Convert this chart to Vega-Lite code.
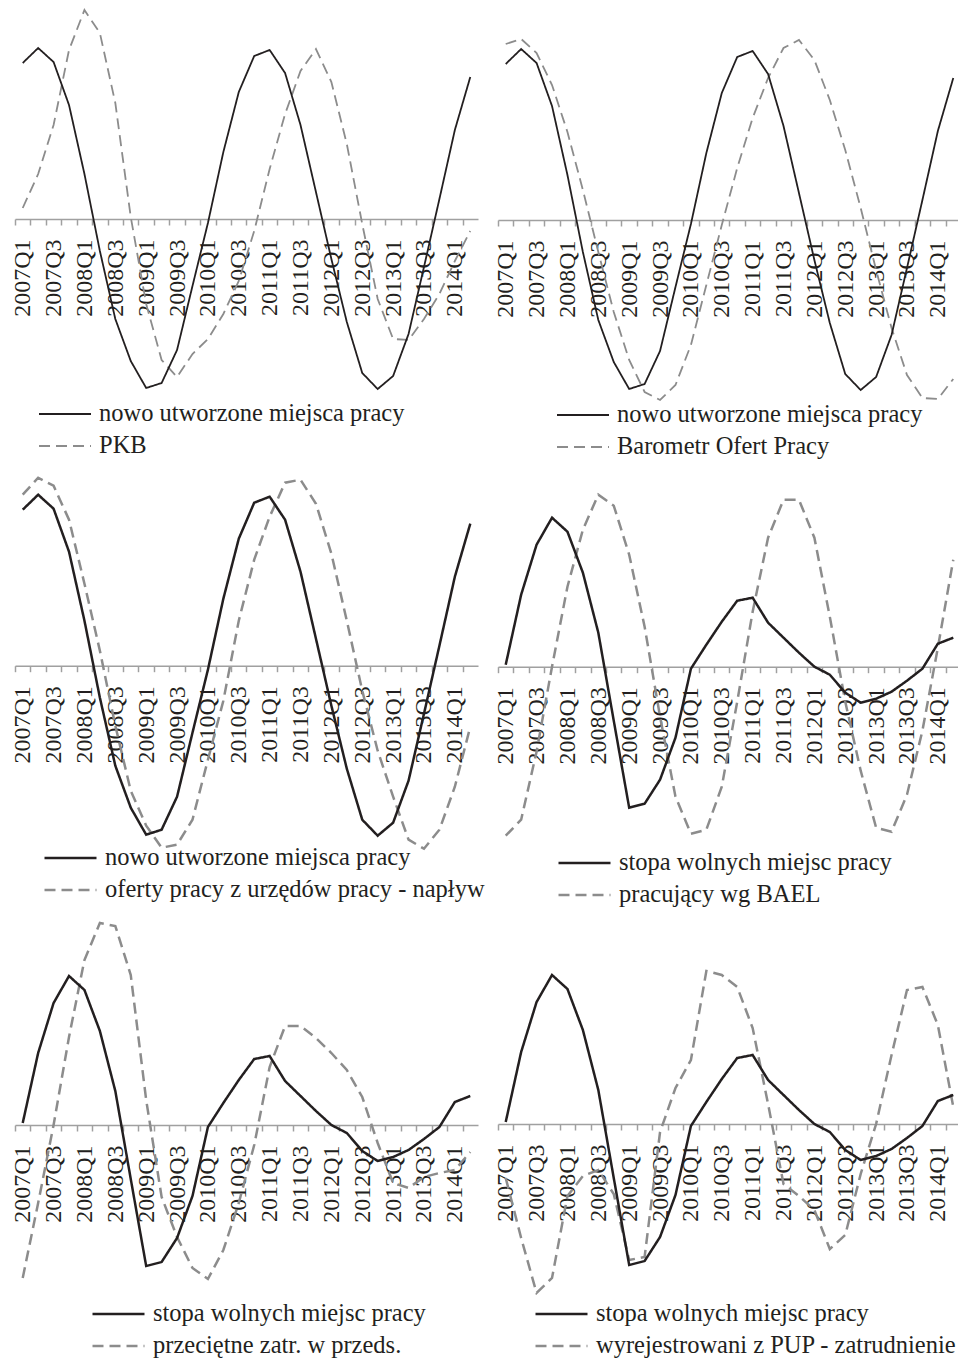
{
  "$schema": "https://vega.github.io/schema/vega-lite/v6.json",
  "padding": {"left": 10, "top": 0, "right": 0, "bottom": 0},
  "background": "white",
  "columns": 2,
  "spacing": {"row": 50, "column": 20},
  "bounds": "flush",
  "resolve": {
    "scale": {"color": "independent", "strokeDash": "independent"},
    "legend": {"color": "independent", "strokeDash": "independent"}
  },
  "concat": [
    {
      "width": 463, "height": 400,
      "data": {"values": [
        {"q":"2007Q1","s":"PKB","v":0.11},{"q":"2007Q2","s":"PKB","v":0.45},{"q":"2007Q3","s":"PKB","v":0.94},{"q":"2007Q4","s":"PKB","v":1.69},
        {"q":"2008Q1","s":"PKB","v":2.09},{"q":"2008Q2","s":"PKB","v":1.86},{"q":"2008Q3","s":"PKB","v":1.16},{"q":"2008Q4","s":"PKB","v":0.02},
        {"q":"2009Q1","s":"PKB","v":-0.85},{"q":"2009Q2","s":"PKB","v":-1.41},{"q":"2009Q3","s":"PKB","v":-1.58},{"q":"2009Q4","s":"PKB","v":-1.35},
        {"q":"2010Q1","s":"PKB","v":-1.2},{"q":"2010Q2","s":"PKB","v":-0.95},{"q":"2010Q3","s":"PKB","v":-0.62},{"q":"2010Q4","s":"PKB","v":-0.12},
        {"q":"2011Q1","s":"PKB","v":0.5},{"q":"2011Q2","s":"PKB","v":1.05},{"q":"2011Q3","s":"PKB","v":1.48},{"q":"2011Q4","s":"PKB","v":1.7},
        {"q":"2012Q1","s":"PKB","v":1.37},{"q":"2012Q2","s":"PKB","v":0.75},{"q":"2012Q3","s":"PKB","v":-0.05},{"q":"2012Q4","s":"PKB","v":-0.8},
        {"q":"2013Q1","s":"PKB","v":-1.2},{"q":"2013Q2","s":"PKB","v":-1.21},{"q":"2013Q3","s":"PKB","v":-1.0},{"q":"2013Q4","s":"PKB","v":-0.75},
        {"q":"2014Q1","s":"PKB","v":-0.42},{"q":"2014Q2","s":"PKB","v":-0.12},
        {"q":"2007Q1","s":"nowo utworzone miejsca pracy","v":1.56},{"q":"2007Q2","s":"nowo utworzone miejsca pracy","v":1.71},{"q":"2007Q3","s":"nowo utworzone miejsca pracy","v":1.57},{"q":"2007Q4","s":"nowo utworzone miejsca pracy","v":1.14},
        {"q":"2008Q1","s":"nowo utworzone miejsca pracy","v":0.45},{"q":"2008Q2","s":"nowo utworzone miejsca pracy","v":-0.32},{"q":"2008Q3","s":"nowo utworzone miejsca pracy","v":-1.0},{"q":"2008Q4","s":"nowo utworzone miejsca pracy","v":-1.42},
        {"q":"2009Q1","s":"nowo utworzone miejsca pracy","v":-1.69},{"q":"2009Q2","s":"nowo utworzone miejsca pracy","v":-1.64},{"q":"2009Q3","s":"nowo utworzone miejsca pracy","v":-1.31},{"q":"2009Q4","s":"nowo utworzone miejsca pracy","v":-0.67},
        {"q":"2010Q1","s":"nowo utworzone miejsca pracy","v":-0.04},{"q":"2010Q2","s":"nowo utworzone miejsca pracy","v":0.67},{"q":"2010Q3","s":"nowo utworzone miejsca pracy","v":1.27},{"q":"2010Q4","s":"nowo utworzone miejsca pracy","v":1.63},
        {"q":"2011Q1","s":"nowo utworzone miejsca pracy","v":1.69},{"q":"2011Q2","s":"nowo utworzone miejsca pracy","v":1.46},{"q":"2011Q3","s":"nowo utworzone miejsca pracy","v":0.94},{"q":"2011Q4","s":"nowo utworzone miejsca pracy","v":0.27},
        {"q":"2012Q1","s":"nowo utworzone miejsca pracy","v":-0.4},{"q":"2012Q2","s":"nowo utworzone miejsca pracy","v":-1.03},{"q":"2012Q3","s":"nowo utworzone miejsca pracy","v":-1.54},{"q":"2012Q4","s":"nowo utworzone miejsca pracy","v":-1.7},
        {"q":"2013Q1","s":"nowo utworzone miejsca pracy","v":-1.57},{"q":"2013Q2","s":"nowo utworzone miejsca pracy","v":-1.15},{"q":"2013Q3","s":"nowo utworzone miejsca pracy","v":-0.48},{"q":"2013Q4","s":"nowo utworzone miejsca pracy","v":0.2},
        {"q":"2014Q1","s":"nowo utworzone miejsca pracy","v":0.89},{"q":"2014Q2","s":"nowo utworzone miejsca pracy","v":1.42}
      ]},
      "mark": {"type": "line", "strokeWidth": 1.8},
      "encoding": {
        "x": {"field": "q", "type": "ordinal",
          "scale": {"type": "point", "padding": 0.5, "domain": ["2007Q1","2007Q2","2007Q3","2007Q4","2008Q1","2008Q2","2008Q3","2008Q4","2009Q1","2009Q2","2009Q3","2009Q4","2010Q1","2010Q2","2010Q3","2010Q4","2011Q1","2011Q2","2011Q3","2011Q4","2012Q1","2012Q2","2012Q3","2012Q4","2013Q1","2013Q2","2013Q3","2013Q4","2014Q1","2014Q2"]},
          "axis": {"offset": -181, "labelExpr": "indexof(datum.value, 'Q1') > 0 || indexof(datum.value, 'Q3') > 0 ? datum.value : ''"}},
        "y": {"field": "v", "type": "quantitative", "scale": {"domain": [-1.81, 2.19], "nice": false, "zero": false}, "axis": null},
        "color": {"field": "s", "type": "nominal", "scale": {"domain": ["nowo utworzone miejsca pracy", "PKB"], "range": ["#231f20", "#8c8c8c"]},
          "legend": {"title": null, "orient": "none", "legendX": 23, "legendY": 399, "symbolStrokeWidth": 1.8}},
        "strokeDash": {"field": "s", "type": "nominal", "scale": {"domain": ["nowo utworzone miejsca pracy", "PKB"], "range": [[1, 0], [11, 6]]},
          "legend": {"title": null, "orient": "none", "legendX": 23, "legendY": 399, "symbolStrokeWidth": 1.8}}
      }
    },
    {
      "width": 463, "height": 400,
      "data": {"values": [
        {"q":"2007Q1","s":"Barometr Ofert Pracy","v":1.76},{"q":"2007Q2","s":"Barometr Ofert Pracy","v":1.81},{"q":"2007Q3","s":"Barometr Ofert Pracy","v":1.67},{"q":"2007Q4","s":"Barometr Ofert Pracy","v":1.35},
        {"q":"2008Q1","s":"Barometr Ofert Pracy","v":0.88},{"q":"2008Q2","s":"Barometr Ofert Pracy","v":0.3},{"q":"2008Q3","s":"Barometr Ofert Pracy","v":-0.32},{"q":"2008Q4","s":"Barometr Ofert Pracy","v":-0.92},
        {"q":"2009Q1","s":"Barometr Ofert Pracy","v":-1.4},{"q":"2009Q2","s":"Barometr Ofert Pracy","v":-1.72},{"q":"2009Q3","s":"Barometr Ofert Pracy","v":-1.8},{"q":"2009Q4","s":"Barometr Ofert Pracy","v":-1.65},
        {"q":"2010Q1","s":"Barometr Ofert Pracy","v":-1.25},{"q":"2010Q2","s":"Barometr Ofert Pracy","v":-0.65},{"q":"2010Q3","s":"Barometr Ofert Pracy","v":-0.05},{"q":"2010Q4","s":"Barometr Ofert Pracy","v":0.52},
        {"q":"2011Q1","s":"Barometr Ofert Pracy","v":1.02},{"q":"2011Q2","s":"Barometr Ofert Pracy","v":1.42},{"q":"2011Q3","s":"Barometr Ofert Pracy","v":1.72},{"q":"2011Q4","s":"Barometr Ofert Pracy","v":1.8},
        {"q":"2012Q1","s":"Barometr Ofert Pracy","v":1.6},{"q":"2012Q2","s":"Barometr Ofert Pracy","v":1.2},{"q":"2012Q3","s":"Barometr Ofert Pracy","v":0.7},{"q":"2012Q4","s":"Barometr Ofert Pracy","v":0.12},
        {"q":"2013Q1","s":"Barometr Ofert Pracy","v":-0.5},{"q":"2013Q2","s":"Barometr Ofert Pracy","v":-1.08},{"q":"2013Q3","s":"Barometr Ofert Pracy","v":-1.55},{"q":"2013Q4","s":"Barometr Ofert Pracy","v":-1.78},
        {"q":"2014Q1","s":"Barometr Ofert Pracy","v":-1.79},{"q":"2014Q2","s":"Barometr Ofert Pracy","v":-1.59},
        {"q":"2007Q1","s":"nowo utworzone miejsca pracy","v":1.56},{"q":"2007Q2","s":"nowo utworzone miejsca pracy","v":1.71},{"q":"2007Q3","s":"nowo utworzone miejsca pracy","v":1.57},{"q":"2007Q4","s":"nowo utworzone miejsca pracy","v":1.14},
        {"q":"2008Q1","s":"nowo utworzone miejsca pracy","v":0.45},{"q":"2008Q2","s":"nowo utworzone miejsca pracy","v":-0.32},{"q":"2008Q3","s":"nowo utworzone miejsca pracy","v":-1.0},{"q":"2008Q4","s":"nowo utworzone miejsca pracy","v":-1.42},
        {"q":"2009Q1","s":"nowo utworzone miejsca pracy","v":-1.69},{"q":"2009Q2","s":"nowo utworzone miejsca pracy","v":-1.64},{"q":"2009Q3","s":"nowo utworzone miejsca pracy","v":-1.31},{"q":"2009Q4","s":"nowo utworzone miejsca pracy","v":-0.67},
        {"q":"2010Q1","s":"nowo utworzone miejsca pracy","v":-0.04},{"q":"2010Q2","s":"nowo utworzone miejsca pracy","v":0.67},{"q":"2010Q3","s":"nowo utworzone miejsca pracy","v":1.27},{"q":"2010Q4","s":"nowo utworzone miejsca pracy","v":1.63},
        {"q":"2011Q1","s":"nowo utworzone miejsca pracy","v":1.69},{"q":"2011Q2","s":"nowo utworzone miejsca pracy","v":1.46},{"q":"2011Q3","s":"nowo utworzone miejsca pracy","v":0.94},{"q":"2011Q4","s":"nowo utworzone miejsca pracy","v":0.27},
        {"q":"2012Q1","s":"nowo utworzone miejsca pracy","v":-0.4},{"q":"2012Q2","s":"nowo utworzone miejsca pracy","v":-1.03},{"q":"2012Q3","s":"nowo utworzone miejsca pracy","v":-1.54},{"q":"2012Q4","s":"nowo utworzone miejsca pracy","v":-1.7},
        {"q":"2013Q1","s":"nowo utworzone miejsca pracy","v":-1.57},{"q":"2013Q2","s":"nowo utworzone miejsca pracy","v":-1.15},{"q":"2013Q3","s":"nowo utworzone miejsca pracy","v":-0.48},{"q":"2013Q4","s":"nowo utworzone miejsca pracy","v":0.2},
        {"q":"2014Q1","s":"nowo utworzone miejsca pracy","v":0.89},{"q":"2014Q2","s":"nowo utworzone miejsca pracy","v":1.42}
      ]},
      "mark": {"type": "line", "strokeWidth": 1.8},
      "encoding": {
        "x": {"field": "q", "type": "ordinal",
          "scale": {"type": "point", "padding": 0.5, "domain": ["2007Q1","2007Q2","2007Q3","2007Q4","2008Q1","2008Q2","2008Q3","2008Q4","2009Q1","2009Q2","2009Q3","2009Q4","2010Q1","2010Q2","2010Q3","2010Q4","2011Q1","2011Q2","2011Q3","2011Q4","2012Q1","2012Q2","2012Q3","2012Q4","2013Q1","2013Q2","2013Q3","2013Q4","2014Q1","2014Q2"]},
          "axis": {"offset": -180, "labelExpr": "indexof(datum.value, 'Q1') > 0 || indexof(datum.value, 'Q3') > 0 ? datum.value : ''"}},
        "y": {"field": "v", "type": "quantitative", "scale": {"domain": [-1.8, 2.2], "nice": false, "zero": false}, "axis": null},
        "color": {"field": "s", "type": "nominal", "scale": {"domain": ["nowo utworzone miejsca pracy", "Barometr Ofert Pracy"], "range": ["#231f20", "#8c8c8c"]},
          "legend": {"title": null, "orient": "none", "legendX": 58, "legendY": 400, "symbolStrokeWidth": 1.8}},
        "strokeDash": {"field": "s", "type": "nominal", "scale": {"domain": ["nowo utworzone miejsca pracy", "Barometr Ofert Pracy"], "range": [[1, 0], [11, 6]]},
          "legend": {"title": null, "orient": "none", "legendX": 58, "legendY": 400, "symbolStrokeWidth": 1.8}}
      }
    },
    {
      "width": 463, "height": 400,
      "data": {"values": [
        {"q":"2007Q1","s":"oferty pracy z urzędów pracy - napływ","v":1.71},{"q":"2007Q2","s":"oferty pracy z urzędów pracy - napływ","v":1.88},{"q":"2007Q3","s":"oferty pracy z urzędów pracy - napływ","v":1.8},{"q":"2007Q4","s":"oferty pracy z urzędów pracy - napływ","v":1.46},
        {"q":"2008Q1","s":"oferty pracy z urzędów pracy - napływ","v":0.82},{"q":"2008Q2","s":"oferty pracy z urzędów pracy - napływ","v":0.15},{"q":"2008Q3","s":"oferty pracy z urzędów pracy - napływ","v":-0.6},{"q":"2008Q4","s":"oferty pracy z urzędów pracy - napływ","v":-1.25},
        {"q":"2009Q1","s":"oferty pracy z urzędów pracy - napływ","v":-1.6},{"q":"2009Q2","s":"oferty pracy z urzędów pracy - napływ","v":-1.82},{"q":"2009Q3","s":"oferty pracy z urzędów pracy - napływ","v":-1.79},{"q":"2009Q4","s":"oferty pracy z urzędów pracy - napływ","v":-1.54},
        {"q":"2010Q1","s":"oferty pracy z urzędów pracy - napływ","v":-0.94},{"q":"2010Q2","s":"oferty pracy z urzędów pracy - napływ","v":-0.35},{"q":"2010Q3","s":"oferty pracy z urzędów pracy - napływ","v":0.45},{"q":"2010Q4","s":"oferty pracy z urzędów pracy - napływ","v":1.06},
        {"q":"2011Q1","s":"oferty pracy z urzędów pracy - napływ","v":1.49},{"q":"2011Q2","s":"oferty pracy z urzędów pracy - napływ","v":1.83},{"q":"2011Q3","s":"oferty pracy z urzędów pracy - napływ","v":1.86},{"q":"2011Q4","s":"oferty pracy z urzędów pracy - napływ","v":1.62},
        {"q":"2012Q1","s":"oferty pracy z urzędów pracy - napływ","v":1.12},{"q":"2012Q2","s":"oferty pracy z urzędów pracy - napływ","v":0.45},{"q":"2012Q3","s":"oferty pracy z urzędów pracy - napływ","v":-0.25},{"q":"2012Q4","s":"oferty pracy z urzędów pracy - napływ","v":-0.85},
        {"q":"2013Q1","s":"oferty pracy z urzędów pracy - napływ","v":-1.31},{"q":"2013Q2","s":"oferty pracy z urzędów pracy - napływ","v":-1.74},{"q":"2013Q3","s":"oferty pracy z urzędów pracy - napływ","v":-1.83},{"q":"2013Q4","s":"oferty pracy z urzędów pracy - napływ","v":-1.64},
        {"q":"2014Q1","s":"oferty pracy z urzędów pracy - napływ","v":-1.21},{"q":"2014Q2","s":"oferty pracy z urzędów pracy - napływ","v":-0.61},
        {"q":"2007Q1","s":"nowo utworzone miejsca pracy","v":1.56},{"q":"2007Q2","s":"nowo utworzone miejsca pracy","v":1.71},{"q":"2007Q3","s":"nowo utworzone miejsca pracy","v":1.57},{"q":"2007Q4","s":"nowo utworzone miejsca pracy","v":1.14},
        {"q":"2008Q1","s":"nowo utworzone miejsca pracy","v":0.45},{"q":"2008Q2","s":"nowo utworzone miejsca pracy","v":-0.32},{"q":"2008Q3","s":"nowo utworzone miejsca pracy","v":-1.0},{"q":"2008Q4","s":"nowo utworzone miejsca pracy","v":-1.42},
        {"q":"2009Q1","s":"nowo utworzone miejsca pracy","v":-1.69},{"q":"2009Q2","s":"nowo utworzone miejsca pracy","v":-1.64},{"q":"2009Q3","s":"nowo utworzone miejsca pracy","v":-1.31},{"q":"2009Q4","s":"nowo utworzone miejsca pracy","v":-0.67},
        {"q":"2010Q1","s":"nowo utworzone miejsca pracy","v":-0.04},{"q":"2010Q2","s":"nowo utworzone miejsca pracy","v":0.67},{"q":"2010Q3","s":"nowo utworzone miejsca pracy","v":1.27},{"q":"2010Q4","s":"nowo utworzone miejsca pracy","v":1.63},
        {"q":"2011Q1","s":"nowo utworzone miejsca pracy","v":1.69},{"q":"2011Q2","s":"nowo utworzone miejsca pracy","v":1.46},{"q":"2011Q3","s":"nowo utworzone miejsca pracy","v":0.94},{"q":"2011Q4","s":"nowo utworzone miejsca pracy","v":0.27},
        {"q":"2012Q1","s":"nowo utworzone miejsca pracy","v":-0.4},{"q":"2012Q2","s":"nowo utworzone miejsca pracy","v":-1.03},{"q":"2012Q3","s":"nowo utworzone miejsca pracy","v":-1.54},{"q":"2012Q4","s":"nowo utworzone miejsca pracy","v":-1.7},
        {"q":"2013Q1","s":"nowo utworzone miejsca pracy","v":-1.57},{"q":"2013Q2","s":"nowo utworzone miejsca pracy","v":-1.15},{"q":"2013Q3","s":"nowo utworzone miejsca pracy","v":-0.48},{"q":"2013Q4","s":"nowo utworzone miejsca pracy","v":0.2},
        {"q":"2014Q1","s":"nowo utworzone miejsca pracy","v":0.89},{"q":"2014Q2","s":"nowo utworzone miejsca pracy","v":1.42}
      ]},
      "mark": {"type": "line", "strokeWidth": 2.5},
      "encoding": {
        "x": {"field": "q", "type": "ordinal",
          "scale": {"type": "point", "padding": 0.5, "domain": ["2007Q1","2007Q2","2007Q3","2007Q4","2008Q1","2008Q2","2008Q3","2008Q4","2009Q1","2009Q2","2009Q3","2009Q4","2010Q1","2010Q2","2010Q3","2010Q4","2011Q1","2011Q2","2011Q3","2011Q4","2012Q1","2012Q2","2012Q3","2012Q4","2013Q1","2013Q2","2013Q3","2013Q4","2014Q1","2014Q2"]},
          "axis": {"offset": -184.3, "labelExpr": "indexof(datum.value, 'Q1') > 0 || indexof(datum.value, 'Q3') > 0 ? datum.value : ''"}},
        "y": {"field": "v", "type": "quantitative", "scale": {"domain": [-1.843, 2.157], "nice": false, "zero": false}, "axis": null},
        "color": {"field": "s", "type": "nominal", "scale": {"domain": ["nowo utworzone miejsca pracy", "oferty pracy z urzędów pracy - napływ"], "range": ["#231f20", "#8c8c8c"]},
          "legend": {"title": null, "orient": "none", "legendX": 28, "legendY": 393}},
        "strokeDash": {"field": "s", "type": "nominal", "scale": {"domain": ["nowo utworzone miejsca pracy", "oferty pracy z urzędów pracy - napływ"], "range": [[1, 0], [11, 6]]},
          "legend": {"title": null, "orient": "none", "legendX": 28, "legendY": 393}}
      }
    },
    {
      "width": 463, "height": 400,
      "data": {"values": [
        {"q":"2007Q1","s":"pracujący wg BAEL","v":-1.69},{"q":"2007Q2","s":"pracujący wg BAEL","v":-1.53},{"q":"2007Q3","s":"pracujący wg BAEL","v":-0.85},{"q":"2007Q4","s":"pracujący wg BAEL","v":0.0},
        {"q":"2008Q1","s":"pracujący wg BAEL","v":0.8},{"q":"2008Q2","s":"pracujący wg BAEL","v":1.37},{"q":"2008Q3","s":"pracujący wg BAEL","v":1.72},{"q":"2008Q4","s":"pracujący wg BAEL","v":1.61},
        {"q":"2009Q1","s":"pracujący wg BAEL","v":1.12},{"q":"2009Q2","s":"pracujący wg BAEL","v":0.4},{"q":"2009Q3","s":"pracujący wg BAEL","v":-0.5},{"q":"2009Q4","s":"pracujący wg BAEL","v":-1.3},
        {"q":"2010Q1","s":"pracujący wg BAEL","v":-1.67},{"q":"2010Q2","s":"pracujący wg BAEL","v":-1.63},{"q":"2010Q3","s":"pracujący wg BAEL","v":-1.2},{"q":"2010Q4","s":"pracujący wg BAEL","v":-0.35},
        {"q":"2011Q1","s":"pracujący wg BAEL","v":0.55},{"q":"2011Q2","s":"pracujący wg BAEL","v":1.29},{"q":"2011Q3","s":"pracujący wg BAEL","v":1.67},{"q":"2011Q4","s":"pracujący wg BAEL","v":1.67},
        {"q":"2012Q1","s":"pracujący wg BAEL","v":1.29},{"q":"2012Q2","s":"pracujący wg BAEL","v":0.5},{"q":"2012Q3","s":"pracujący wg BAEL","v":-0.35},{"q":"2012Q4","s":"pracujący wg BAEL","v":-1.04},
        {"q":"2013Q1","s":"pracujący wg BAEL","v":-1.61},{"q":"2013Q2","s":"pracujący wg BAEL","v":-1.65},{"q":"2013Q3","s":"pracujący wg BAEL","v":-1.28},{"q":"2013Q4","s":"pracujący wg BAEL","v":-0.64},
        {"q":"2014Q1","s":"pracujący wg BAEL","v":0.19},{"q":"2014Q2","s":"pracujący wg BAEL","v":1.07},
        {"q":"2007Q1","s":"stopa wolnych miejsc pracy","v":0.02},{"q":"2007Q2","s":"stopa wolnych miejsc pracy","v":0.72},{"q":"2007Q3","s":"stopa wolnych miejsc pracy","v":1.22},{"q":"2007Q4","s":"stopa wolnych miejsc pracy","v":1.49},
        {"q":"2008Q1","s":"stopa wolnych miejsc pracy","v":1.35},{"q":"2008Q2","s":"stopa wolnych miejsc pracy","v":0.94},{"q":"2008Q3","s":"stopa wolnych miejsc pracy","v":0.34},{"q":"2008Q4","s":"stopa wolnych miejsc pracy","v":-0.54},
        {"q":"2009Q1","s":"stopa wolnych miejsc pracy","v":-1.41},{"q":"2009Q2","s":"stopa wolnych miejsc pracy","v":-1.37},{"q":"2009Q3","s":"stopa wolnych miejsc pracy","v":-1.13},{"q":"2009Q4","s":"stopa wolnych miejsc pracy","v":-0.71},
        {"q":"2010Q1","s":"stopa wolnych miejsc pracy","v":-0.02},{"q":"2010Q2","s":"stopa wolnych miejsc pracy","v":0.22},{"q":"2010Q3","s":"stopa wolnych miejsc pracy","v":0.45},{"q":"2010Q4","s":"stopa wolnych miejsc pracy","v":0.66},
        {"q":"2011Q1","s":"stopa wolnych miejsc pracy","v":0.69},{"q":"2011Q2","s":"stopa wolnych miejsc pracy","v":0.44},{"q":"2011Q3","s":"stopa wolnych miejsc pracy","v":0.29},{"q":"2011Q4","s":"stopa wolnych miejsc pracy","v":0.14},
        {"q":"2012Q1","s":"stopa wolnych miejsc pracy","v":0.0},{"q":"2012Q2","s":"stopa wolnych miejsc pracy","v":-0.08},{"q":"2012Q3","s":"stopa wolnych miejsc pracy","v":-0.26},{"q":"2012Q4","s":"stopa wolnych miejsc pracy","v":-0.36},
        {"q":"2013Q1","s":"stopa wolnych miejsc pracy","v":-0.32},{"q":"2013Q2","s":"stopa wolnych miejsc pracy","v":-0.25},{"q":"2013Q3","s":"stopa wolnych miejsc pracy","v":-0.14},{"q":"2013Q4","s":"stopa wolnych miejsc pracy","v":-0.02},
        {"q":"2014Q1","s":"stopa wolnych miejsc pracy","v":0.23},{"q":"2014Q2","s":"stopa wolnych miejsc pracy","v":0.29}
      ]},
      "mark": {"type": "line", "strokeWidth": 2.5},
      "encoding": {
        "x": {"field": "q", "type": "ordinal",
          "scale": {"type": "point", "padding": 0.5, "domain": ["2007Q1","2007Q2","2007Q3","2007Q4","2008Q1","2008Q2","2008Q3","2008Q4","2009Q1","2009Q2","2009Q3","2009Q4","2010Q1","2010Q2","2010Q3","2010Q4","2011Q1","2011Q2","2011Q3","2011Q4","2012Q1","2012Q2","2012Q3","2012Q4","2013Q1","2013Q2","2013Q3","2013Q4","2014Q1","2014Q2"]},
          "axis": {"offset": -183.3, "labelExpr": "indexof(datum.value, 'Q1') > 0 || indexof(datum.value, 'Q3') > 0 ? datum.value : ''"}},
        "y": {"field": "v", "type": "quantitative", "scale": {"domain": [-1.833, 2.167], "nice": false, "zero": false}, "axis": null},
        "color": {"field": "s", "type": "nominal", "scale": {"domain": ["stopa wolnych miejsc pracy", "pracujący wg BAEL"], "range": ["#231f20", "#8c8c8c"]},
          "legend": {"title": null, "orient": "none", "legendX": 59, "legendY": 398}},
        "strokeDash": {"field": "s", "type": "nominal", "scale": {"domain": ["stopa wolnych miejsc pracy", "pracujący wg BAEL"], "range": [[1, 0], [11, 6]]},
          "legend": {"title": null, "orient": "none", "legendX": 59, "legendY": 398}}
      }
    },
    {
      "width": 463, "height": 400,
      "data": {"values": [
        {"q":"2007Q1","s":"przeciętne zatr. w przeds.","v":-1.53},{"q":"2007Q2","s":"przeciętne zatr. w przeds.","v":-0.78},{"q":"2007Q3","s":"przeciętne zatr. w przeds.","v":0.0},{"q":"2007Q4","s":"przeciętne zatr. w przeds.","v":0.88},
        {"q":"2008Q1","s":"przeciętne zatr. w przeds.","v":1.65},{"q":"2008Q2","s":"przeciętne zatr. w przeds.","v":2.02},{"q":"2008Q3","s":"przeciętne zatr. w przeds.","v":1.99},{"q":"2008Q4","s":"przeciętne zatr. w przeds.","v":1.5},
        {"q":"2009Q1","s":"przeciętne zatr. w przeds.","v":0.25},{"q":"2009Q2","s":"przeciętne zatr. w przeds.","v":-0.72},{"q":"2009Q3","s":"przeciętne zatr. w przeds.","v":-1.12},{"q":"2009Q4","s":"przeciętne zatr. w przeds.","v":-1.43},
        {"q":"2010Q1","s":"przeciętne zatr. w przeds.","v":-1.54},{"q":"2010Q2","s":"przeciętne zatr. w przeds.","v":-1.25},{"q":"2010Q3","s":"przeciętne zatr. w przeds.","v":-0.78},{"q":"2010Q4","s":"przeciętne zatr. w przeds.","v":-0.2},
        {"q":"2011Q1","s":"przeciętne zatr. w przeds.","v":0.58},{"q":"2011Q2","s":"przeciętne zatr. w przeds.","v":0.99},{"q":"2011Q3","s":"przeciętne zatr. w przeds.","v":0.99},{"q":"2011Q4","s":"przeciętne zatr. w przeds.","v":0.87},
        {"q":"2012Q1","s":"przeciętne zatr. w przeds.","v":0.72},{"q":"2012Q2","s":"przeciętne zatr. w przeds.","v":0.55},{"q":"2012Q3","s":"przeciętne zatr. w przeds.","v":0.28},{"q":"2012Q4","s":"przeciętne zatr. w przeds.","v":-0.18},
        {"q":"2013Q1","s":"przeciętne zatr. w przeds.","v":-0.58},{"q":"2013Q2","s":"przeciętne zatr. w przeds.","v":-0.63},{"q":"2013Q3","s":"przeciętne zatr. w przeds.","v":-0.52},{"q":"2013Q4","s":"przeciętne zatr. w przeds.","v":-0.48},
        {"q":"2014Q1","s":"przeciętne zatr. w przeds.","v":-0.45},{"q":"2014Q2","s":"przeciętne zatr. w przeds.","v":-0.27},
        {"q":"2007Q1","s":"stopa wolnych miejsc pracy","v":0.02},{"q":"2007Q2","s":"stopa wolnych miejsc pracy","v":0.72},{"q":"2007Q3","s":"stopa wolnych miejsc pracy","v":1.22},{"q":"2007Q4","s":"stopa wolnych miejsc pracy","v":1.49},
        {"q":"2008Q1","s":"stopa wolnych miejsc pracy","v":1.35},{"q":"2008Q2","s":"stopa wolnych miejsc pracy","v":0.94},{"q":"2008Q3","s":"stopa wolnych miejsc pracy","v":0.34},{"q":"2008Q4","s":"stopa wolnych miejsc pracy","v":-0.54},
        {"q":"2009Q1","s":"stopa wolnych miejsc pracy","v":-1.41},{"q":"2009Q2","s":"stopa wolnych miejsc pracy","v":-1.37},{"q":"2009Q3","s":"stopa wolnych miejsc pracy","v":-1.13},{"q":"2009Q4","s":"stopa wolnych miejsc pracy","v":-0.71},
        {"q":"2010Q1","s":"stopa wolnych miejsc pracy","v":-0.02},{"q":"2010Q2","s":"stopa wolnych miejsc pracy","v":0.22},{"q":"2010Q3","s":"stopa wolnych miejsc pracy","v":0.45},{"q":"2010Q4","s":"stopa wolnych miejsc pracy","v":0.66},
        {"q":"2011Q1","s":"stopa wolnych miejsc pracy","v":0.69},{"q":"2011Q2","s":"stopa wolnych miejsc pracy","v":0.44},{"q":"2011Q3","s":"stopa wolnych miejsc pracy","v":0.29},{"q":"2011Q4","s":"stopa wolnych miejsc pracy","v":0.14},
        {"q":"2012Q1","s":"stopa wolnych miejsc pracy","v":0.0},{"q":"2012Q2","s":"stopa wolnych miejsc pracy","v":-0.08},{"q":"2012Q3","s":"stopa wolnych miejsc pracy","v":-0.26},{"q":"2012Q4","s":"stopa wolnych miejsc pracy","v":-0.36},
        {"q":"2013Q1","s":"stopa wolnych miejsc pracy","v":-0.32},{"q":"2013Q2","s":"stopa wolnych miejsc pracy","v":-0.25},{"q":"2013Q3","s":"stopa wolnych miejsc pracy","v":-0.14},{"q":"2013Q4","s":"stopa wolnych miejsc pracy","v":-0.02},
        {"q":"2014Q1","s":"stopa wolnych miejsc pracy","v":0.23},{"q":"2014Q2","s":"stopa wolnych miejsc pracy","v":0.29}
      ]},
      "mark": {"type": "line", "strokeWidth": 2.5},
      "encoding": {
        "x": {"field": "q", "type": "ordinal",
          "scale": {"type": "point", "padding": 0.5, "domain": ["2007Q1","2007Q2","2007Q3","2007Q4","2008Q1","2008Q2","2008Q3","2008Q4","2009Q1","2009Q2","2009Q3","2009Q4","2010Q1","2010Q2","2010Q3","2010Q4","2011Q1","2011Q2","2011Q3","2011Q4","2012Q1","2012Q2","2012Q3","2012Q4","2013Q1","2013Q2","2013Q3","2013Q4","2014Q1","2014Q2"]},
          "axis": {"offset": -175, "labelExpr": "indexof(datum.value, 'Q1') > 0 || indexof(datum.value, 'Q3') > 0 ? datum.value : ''"}},
        "y": {"field": "v", "type": "quantitative", "scale": {"domain": [-1.75, 2.25], "nice": false, "zero": false}, "axis": null},
        "color": {"field": "s", "type": "nominal", "scale": {"domain": ["stopa wolnych miejsc pracy", "przeciętne zatr. w przeds."], "range": ["#231f20", "#8c8c8c"]},
          "legend": {"title": null, "orient": "none", "legendX": 76, "legendY": 399}},
        "strokeDash": {"field": "s", "type": "nominal", "scale": {"domain": ["stopa wolnych miejsc pracy", "przeciętne zatr. w przeds."], "range": [[1, 0], [11, 6]]},
          "legend": {"title": null, "orient": "none", "legendX": 76, "legendY": 399}}
      }
    },
    {
      "width": 463, "height": 400,
      "data": {"values": [
        {"q":"2007Q1","s":"wyrejestrowani z PUP - zatrudnienie","v":-0.54},{"q":"2007Q2","s":"wyrejestrowani z PUP - zatrudnienie","v":-1.14},{"q":"2007Q3","s":"wyrejestrowani z PUP - zatrudnienie","v":-1.69},{"q":"2007Q4","s":"wyrejestrowani z PUP - zatrudnienie","v":-1.54},
        {"q":"2008Q1","s":"wyrejestrowani z PUP - zatrudnienie","v":-0.72},{"q":"2008Q2","s":"wyrejestrowani z PUP - zatrudnienie","v":-0.52},{"q":"2008Q3","s":"wyrejestrowani z PUP - zatrudnienie","v":-0.46},{"q":"2008Q4","s":"wyrejestrowani z PUP - zatrudnienie","v":-0.7},
        {"q":"2009Q1","s":"wyrejestrowani z PUP - zatrudnienie","v":-1.36},{"q":"2009Q2","s":"wyrejestrowani z PUP - zatrudnienie","v":-1.33},{"q":"2009Q3","s":"wyrejestrowani z PUP - zatrudnienie","v":-0.08},{"q":"2009Q4","s":"wyrejestrowani z PUP - zatrudnienie","v":0.36},
        {"q":"2010Q1","s":"wyrejestrowani z PUP - zatrudnienie","v":0.64},{"q":"2010Q2","s":"wyrejestrowani z PUP - zatrudnienie","v":1.53},{"q":"2010Q3","s":"wyrejestrowani z PUP - zatrudnienie","v":1.49},{"q":"2010Q4","s":"wyrejestrowani z PUP - zatrudnienie","v":1.37},
        {"q":"2011Q1","s":"wyrejestrowani z PUP - zatrudnienie","v":0.96},{"q":"2011Q2","s":"wyrejestrowani z PUP - zatrudnienie","v":0.2},{"q":"2011Q3","s":"wyrejestrowani z PUP - zatrudnienie","v":-0.6},{"q":"2011Q4","s":"wyrejestrowani z PUP - zatrudnienie","v":-0.72},
        {"q":"2012Q1","s":"wyrejestrowani z PUP - zatrudnienie","v":-0.86},{"q":"2012Q2","s":"wyrejestrowani z PUP - zatrudnienie","v":-1.25},{"q":"2012Q3","s":"wyrejestrowani z PUP - zatrudnienie","v":-1.11},{"q":"2012Q4","s":"wyrejestrowani z PUP - zatrudnienie","v":-0.5},
        {"q":"2013Q1","s":"wyrejestrowani z PUP - zatrudnienie","v":0.0},{"q":"2013Q2","s":"wyrejestrowani z PUP - zatrudnienie","v":0.69},{"q":"2013Q3","s":"wyrejestrowani z PUP - zatrudnienie","v":1.34},{"q":"2013Q4","s":"wyrejestrowani z PUP - zatrudnienie","v":1.37},
        {"q":"2014Q1","s":"wyrejestrowani z PUP - zatrudnienie","v":0.99},{"q":"2014Q2","s":"wyrejestrowani z PUP - zatrudnienie","v":0.17},
        {"q":"2007Q1","s":"stopa wolnych miejsc pracy","v":0.02},{"q":"2007Q2","s":"stopa wolnych miejsc pracy","v":0.72},{"q":"2007Q3","s":"stopa wolnych miejsc pracy","v":1.22},{"q":"2007Q4","s":"stopa wolnych miejsc pracy","v":1.49},
        {"q":"2008Q1","s":"stopa wolnych miejsc pracy","v":1.35},{"q":"2008Q2","s":"stopa wolnych miejsc pracy","v":0.94},{"q":"2008Q3","s":"stopa wolnych miejsc pracy","v":0.34},{"q":"2008Q4","s":"stopa wolnych miejsc pracy","v":-0.54},
        {"q":"2009Q1","s":"stopa wolnych miejsc pracy","v":-1.41},{"q":"2009Q2","s":"stopa wolnych miejsc pracy","v":-1.37},{"q":"2009Q3","s":"stopa wolnych miejsc pracy","v":-1.13},{"q":"2009Q4","s":"stopa wolnych miejsc pracy","v":-0.71},
        {"q":"2010Q1","s":"stopa wolnych miejsc pracy","v":-0.02},{"q":"2010Q2","s":"stopa wolnych miejsc pracy","v":0.22},{"q":"2010Q3","s":"stopa wolnych miejsc pracy","v":0.45},{"q":"2010Q4","s":"stopa wolnych miejsc pracy","v":0.66},
        {"q":"2011Q1","s":"stopa wolnych miejsc pracy","v":0.69},{"q":"2011Q2","s":"stopa wolnych miejsc pracy","v":0.44},{"q":"2011Q3","s":"stopa wolnych miejsc pracy","v":0.29},{"q":"2011Q4","s":"stopa wolnych miejsc pracy","v":0.14},
        {"q":"2012Q1","s":"stopa wolnych miejsc pracy","v":0.0},{"q":"2012Q2","s":"stopa wolnych miejsc pracy","v":-0.08},{"q":"2012Q3","s":"stopa wolnych miejsc pracy","v":-0.26},{"q":"2012Q4","s":"stopa wolnych miejsc pracy","v":-0.36},
        {"q":"2013Q1","s":"stopa wolnych miejsc pracy","v":-0.32},{"q":"2013Q2","s":"stopa wolnych miejsc pracy","v":-0.25},{"q":"2013Q3","s":"stopa wolnych miejsc pracy","v":-0.14},{"q":"2013Q4","s":"stopa wolnych miejsc pracy","v":-0.02},
        {"q":"2014Q1","s":"stopa wolnych miejsc pracy","v":0.23},{"q":"2014Q2","s":"stopa wolnych miejsc pracy","v":0.29}
      ]},
      "mark": {"type": "line", "strokeWidth": 2.5},
      "encoding": {
        "x": {"field": "q", "type": "ordinal",
          "scale": {"type": "point", "padding": 0.5, "domain": ["2007Q1","2007Q2","2007Q3","2007Q4","2008Q1","2008Q2","2008Q3","2008Q4","2009Q1","2009Q2","2009Q3","2009Q4","2010Q1","2010Q2","2010Q3","2010Q4","2011Q1","2011Q2","2011Q3","2011Q4","2012Q1","2012Q2","2012Q3","2012Q4","2013Q1","2013Q2","2013Q3","2013Q4","2014Q1","2014Q2"]},
          "axis": {"offset": -176, "labelExpr": "indexof(datum.value, 'Q1') > 0 || indexof(datum.value, 'Q3') > 0 ? datum.value : ''"}},
        "y": {"field": "v", "type": "quantitative", "scale": {"domain": [-1.76, 2.24], "nice": false, "zero": false}, "axis": null},
        "color": {"field": "s", "type": "nominal", "scale": {"domain": ["stopa wolnych miejsc pracy", "wyrejestrowani z PUP - zatrudnienie"], "range": ["#231f20", "#8c8c8c"]},
          "legend": {"title": null, "orient": "none", "legendX": 36, "legendY": 399}},
        "strokeDash": {"field": "s", "type": "nominal", "scale": {"domain": ["stopa wolnych miejsc pracy", "wyrejestrowani z PUP - zatrudnienie"], "range": [[1, 0], [11, 6]]},
          "legend": {"title": null, "orient": "none", "legendX": 36, "legendY": 399}}
      }
    }
  ],
  "config": {
    "view": {"stroke": null},
    "font": "Liberation Serif",
    "axisX": {
      "title": null, "grid": false, "tickOffset": -7.717, "labelOffset": 7.717, "tickSize": 6, "tickWidth": 1.5, "tickColor": "#a0a0a0",
      "domainColor": "#a0a0a0", "domainWidth": 1.5, "labelAngle": -90, "labelAlign": "right", "labelBaseline": "middle",
      "labelFont": "Liberation Serif", "labelFontSize": 24, "labelColor": "#231f20", "labelPadding": 14,
      "labelOverlap": false, "labelBound": false, "labelFlush": false, "zindex": 0
    },
    "legend": {
      "symbolSize": 2704, "symbolStrokeWidth": 2.5, "clipHeight": 30, "labelFont": "Liberation Serif",
      "labelFontSize": 24.5, "labelColor": "#231f20", "labelOffset": 7, "labelLimit": 600
    }
  }
}
